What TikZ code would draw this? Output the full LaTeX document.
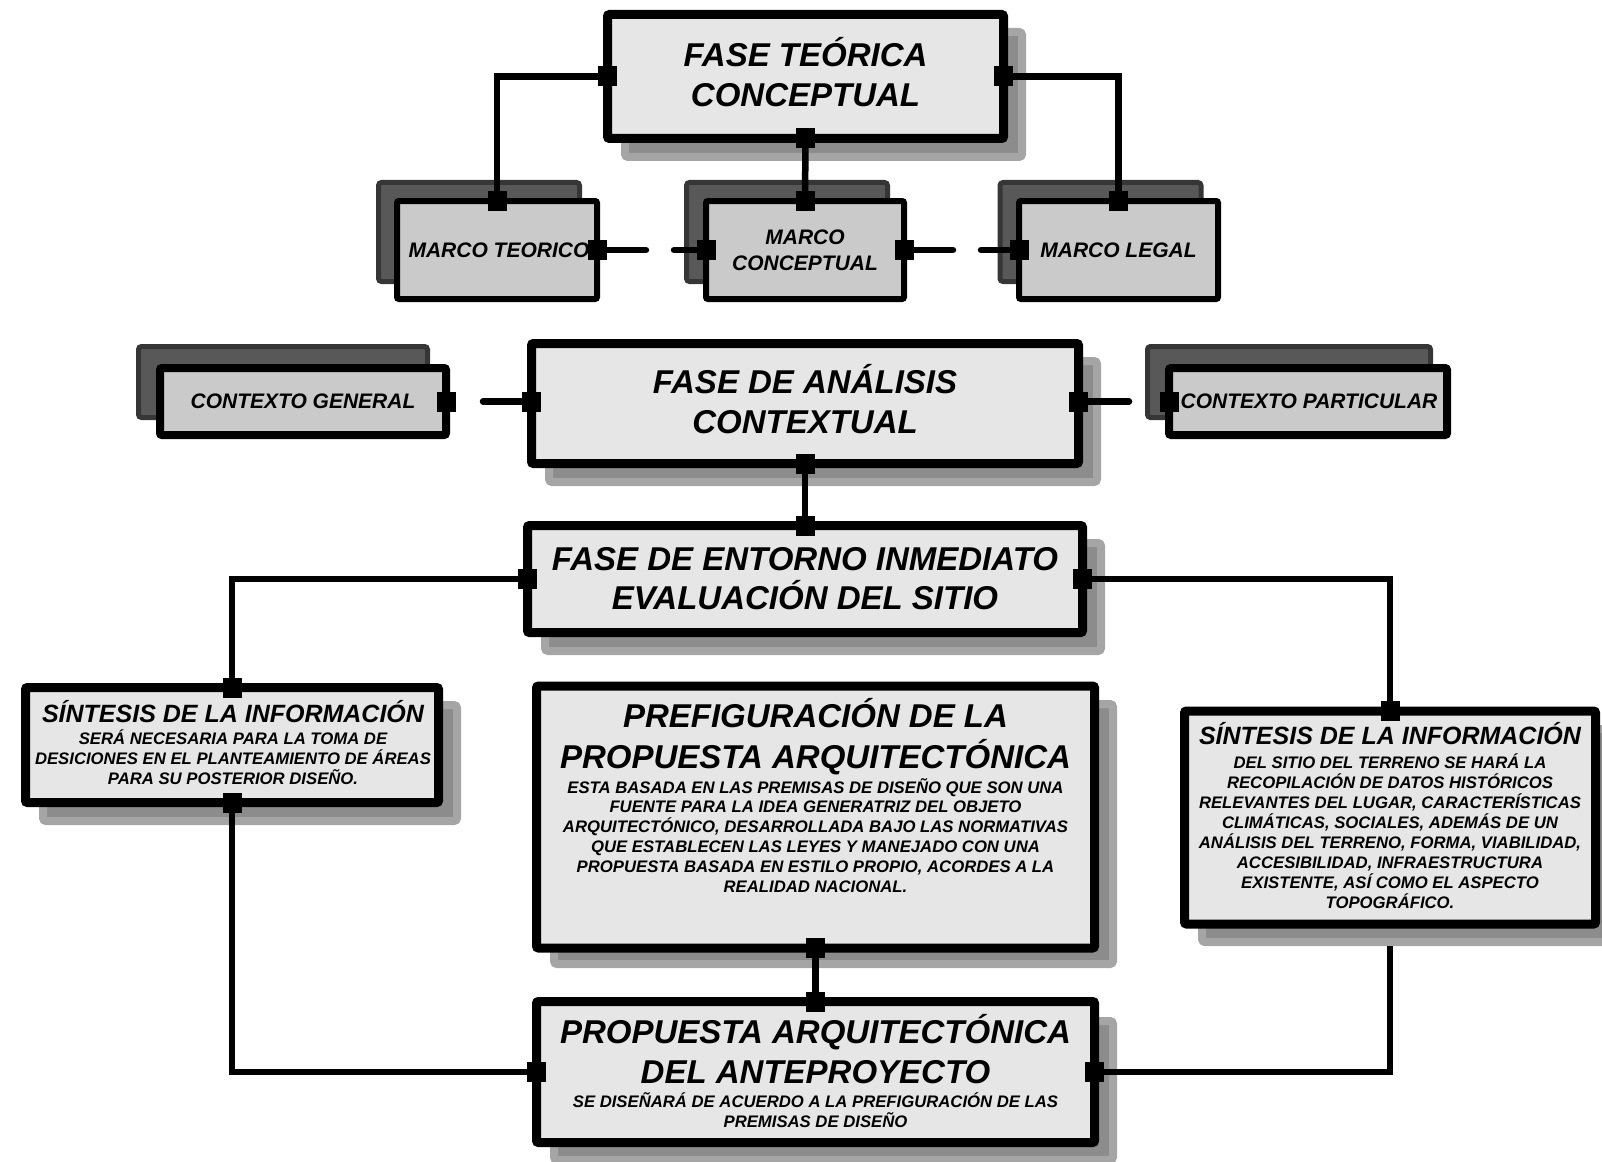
\documentclass[tikz,border=0pt]{standalone}
\usepackage{fontspec}
\setmainfont{Liberation Sans}
\usetikzlibrary{calc}
\definecolor{boxfill}{RGB}{230,230,230}
\definecolor{marcofill}{RGB}{202,202,202}
\definecolor{dkrim}{RGB}{54,54,54}
\definecolor{dkfill}{RGB}{88,88,88}
\definecolor{ltrim}{RGB}{165,165,165}
\definecolor{ltfill}{RGB}{140,140,140}
\tikzset{
  mainbox/.style={draw=black, line width=9pt, fill=boxfill, rounded corners=2pt, inner sep=0pt, outer sep=0pt},
  subbox/.style={draw=black, line width=6pt, fill=marcofill, rounded corners=2pt, inner sep=0pt, outer sep=0pt},
  ctxbox/.style={draw=black, line width=8pt, fill=marcofill, rounded corners=2pt, inner sep=0pt, outer sep=0pt},
  dkshadow/.style={draw=dkrim, line width=5pt, fill=dkfill, rounded corners=3pt, inner sep=0pt, outer sep=0pt},
  ltshadow/.style={draw=ltrim, line width=8pt, fill=ltfill, rounded corners=3pt, inner sep=0pt, outer sep=0pt},
  conn/.style={line width=6.5pt, line cap=round, draw=black},
  jsq/.style={fill=black, draw=none, minimum width=19pt, minimum height=20pt, inner sep=0pt, outer sep=0pt},
  bigtxt/.style={font=\bfseries\itshape\fontsize{33}{40}\selectfont, anchor=base, inner sep=0pt},
  midtxt/.style={font=\bfseries\itshape\fontsize{25}{30}\selectfont, anchor=base, inner sep=0pt},
  subtxt/.style={font=\bfseries\itshape\fontsize{21}{25}\selectfont, anchor=base, inner sep=0pt},
  bodytxt/.style={font=\bfseries\itshape\fontsize{16.7}{20}\selectfont, anchor=base, inner sep=0pt},
}
\begin{document}
\begin{tikzpicture}[x=1pt,y=-1pt]
\useasboundingbox (0,0) rectangle (1602,1161);
% ---------- shadows ----------
\node[ltshadow, minimum width=397pt, minimum height=125pt] (ftsh) at (823.5,94.5) {};
\node[dkshadow, minimum width=201pt, minimum height=99pt] (mtsh) at (479,232) {};
\node[dkshadow, minimum width=201pt, minimum height=99pt] (mcsh) at (787,232) {};
\node[dkshadow, minimum width=201pt, minimum height=99pt] (mlsh) at (1100.5,232) {};
\node[ltshadow, minimum width=548pt, minimum height=121pt] (fash) at (823,421.5) {};
\node[dkshadow, minimum width=289pt, minimum height=71pt] (cgsh) at (283,382) {};
\node[dkshadow, minimum width=283pt, minimum height=71pt] (cpsh) at (1289,382) {};
\node[ltshadow, minimum width=556pt, minimum height=108pt] (fesh) at (823,597) {};
\node[ltshadow, minimum width=414pt, minimum height=116pt] (slsh) at (250,763) {};
\node[ltshadow, minimum width=412pt, minimum height=213pt] (srsh) at (1408,835.5) {};
\node[ltshadow, minimum width=559pt, minimum height=260pt] (prefsh) at (833.5,834) {};
\node[ltshadow, minimum width=559pt, minimum height=139pt] (propsh) at (833.5,1090.5) {};
% ---------- boxes ----------
\node[mainbox, minimum width=396pt, minimum height=124pt] (ft) at (805.5,76.5) {};
\node[subbox, minimum width=200pt, minimum height=98pt] (mt) at (497,250) {};
\node[subbox, minimum width=198pt, minimum height=98pt] (mc) at (805,250) {};
\node[subbox, minimum width=199pt, minimum height=98pt] (ml) at (1118.5,250) {};
\node[mainbox, minimum width=547pt, minimum height=120pt] (fa) at (805,403.5) {};
\node[ctxbox, minimum width=286pt, minimum height=67pt] (cg) at (303,401.5) {};
\node[ctxbox, minimum width=278pt, minimum height=67pt] (cp) at (1308,401.5) {};
\node[mainbox, minimum width=555pt, minimum height=107pt] (fe) at (805,579) {};
\node[mainbox, minimum width=413pt, minimum height=115pt] (sl) at (232,745) {};
\node[mainbox, minimum width=411pt, minimum height=213pt] (sr) at (1390,817.5) {};
\node[mainbox, minimum width=558pt, minimum height=262pt] (pref) at (815.5,817) {};
\node[mainbox, minimum width=558pt, minimum height=141pt] (prop) at (815.5,1072) {};
% ---------- connectors ----------
\draw[conn] (ft.west) -| (mt.north);
\draw[conn] (ft.south) -- (mc.north);
\draw[conn] (ft.east) -| (ml.north);
\coordinate (mt1) at (646,250);
\coordinate (mc1) at (674,250);
\coordinate (mc2) at (953,250);
\coordinate (ml1) at (981,250);
\draw[conn] (mt.east) -- (mt1);
\draw[conn] (mc1) -- (mc.west);
\draw[conn] (mc.east) -- (mc2);
\draw[conn] (ml1) -- (ml.west);
\coordinate (cg1) at (483,401.5);
\coordinate (cp1) at (1129,401.5);
\draw[conn] (cg1) -- (fa.west |- cg1);
\draw[conn] (fa.east |- cp1) -- (cp1);
\draw[conn] (fa.south) -- (fe.north);
\draw[conn] (fe.west) -| (sl.north);
\draw[conn] (fe.east) -| (sr.north);
\draw[conn] (pref.south) -- (prop.north);
\draw[conn] (sl.south) |- (prop.west);
\coordinate (srlow) at (1390,946);
\draw[conn, line cap=butt] (srlow) |- (prop.east);
% ---------- junction squares ----------
\node[jsq] (q1) at (ft.west) {};
\node[jsq] (q2) at (mt.north) {};
\node[jsq] (q3) at (ft.south) {};
\node[jsq] (q4) at (mc.north) {};
\node[jsq] (q5) at (ft.east) {};
\node[jsq] (q6) at (ml.north) {};
\node[jsq] (q7) at (mt.east) {};
\node[jsq] (q8) at (mc.west) {};
\node[jsq] (q9) at (mc.east) {};
\node[jsq] (q10) at (ml.west) {};
\node[jsq] (q11) at (cg.east) {};
\node[jsq] (q12) at (fa.west |- cg1) {};
\node[jsq] (q13) at (fa.east |- cp1) {};
\node[jsq] (q14) at (cp.west) {};
\node[jsq] (q15) at (fa.south) {};
\node[jsq] (q16) at (fe.north) {};
\node[jsq] (q17) at (fe.west) {};
\node[jsq] (q18) at (sl.north) {};
\node[jsq] (q19) at (fe.east) {};
\node[jsq] (q20) at (sr.north) {};
\node[jsq] (q21) at (pref.south) {};
\node[jsq] (q22) at (prop.north) {};
\node[jsq] (q23) at (sl.south) {};
\node[jsq] (q24) at (prop.west) {};
\node[jsq] (q25) at (prop.east) {};
% ---------- texts ----------
\node[bigtxt] (ftt1) at (805.5,67) {FASE TEÓRICA};
\node[bigtxt] (ftt2) at (805.5,107) {CONCEPTUAL};
\node[subtxt] (mtt) at (499,257) {MARCO TEORICO};
\node[subtxt] (mct1) at (805,244.5) {MARCO};
\node[subtxt] (mct2) at (805,270) {CONCEPTUAL};
\node[subtxt] (mlt) at (1118.5,257) {MARCO LEGAL};
\node[subtxt] (cgt) at (303,408) {CONTEXTO GENERAL};
\node[subtxt] (cpt) at (1309,408) {CONTEXTO PARTICULAR};
\node[bigtxt] (fat1) at (805,393) {FASE DE ANÁLISIS};
\node[bigtxt] (fat2) at (805,433) {CONTEXTUAL};
\node[bigtxt] (fet1) at (805,570) {FASE DE ENTORNO INMEDIATO};
\node[bigtxt] (fet2) at (805,609) {EVALUACIÓN DEL SITIO};
\node[midtxt] (slt) at (233,722) {SÍNTESIS DE LA INFORMACIÓN};
\foreach \t [count=\k from 0] in {{SERÁ NECESARIA PARA LA TOMA DE},{DESICIONES EN EL PLANTEAMIENTO DE ÁREAS},{PARA SU POSTERIOR DISEÑO.}}
  \node[bodytxt] (slb\k) at (233,{744+20*\k}) {\t};
\node[bigtxt] (preft1) at (815.5,727) {PREFIGURACIÓN DE LA};
\node[bigtxt] (preft2) at (815.5,768) {PROPUESTA ARQUITECTÓNICA};
\foreach \t [count=\k from 0] in {{ESTA BASADA EN LAS PREMISAS DE DISEÑO QUE SON UNA},{FUENTE PARA LA IDEA GENERATRIZ DEL OBJETO},{ARQUITECTÓNICO, DESARROLLADA BAJO LAS NORMATIVAS},{QUE ESTABLECEN LAS LEYES Y MANEJADO CON UNA},{PROPUESTA BASADA EN ESTILO PROPIO, ACORDES A LA},{REALIDAD NACIONAL.}}
  \node[bodytxt] (prefb\k) at (815.5,{793+19.8*\k}) {\t};
\node[midtxt] (srt) at (1390,744.6) {SÍNTESIS DE LA INFORMACIÓN};
\foreach \t [count=\k from 0] in {{DEL SITIO DEL TERRENO SE HARÁ LA},{RECOPILACIÓN DE DATOS HISTÓRICOS},{RELEVANTES DEL LUGAR, CARACTERÍSTICAS},{CLIMÁTICAS, SOCIALES, ADEMÁS DE UN},{ANÁLISIS DEL TERRENO, FORMA, VIABILIDAD,},{ACCESIBILIDAD, INFRAESTRUCTURA},{EXISTENTE, ASÍ COMO EL ASPECTO},{TOPOGRÁFICO.}}
  \node[bodytxt] (srb\k) at (1390,{768+20*\k}) {\t};
\node[bigtxt] (propt1) at (815.5,1043) {PROPUESTA ARQUITECTÓNICA};
\node[bigtxt] (propt2) at (815.5,1083) {DEL ANTEPROYECTO};
\node[bodytxt] (propb0) at (815.5,1107.4) {SE DISEÑARÁ DE ACUERDO A LA PREFIGURACIÓN DE LAS};
\node[bodytxt] (propb1) at (815.5,1127) {PREMISAS DE DISEÑO};
\end{tikzpicture}
\end{document}
